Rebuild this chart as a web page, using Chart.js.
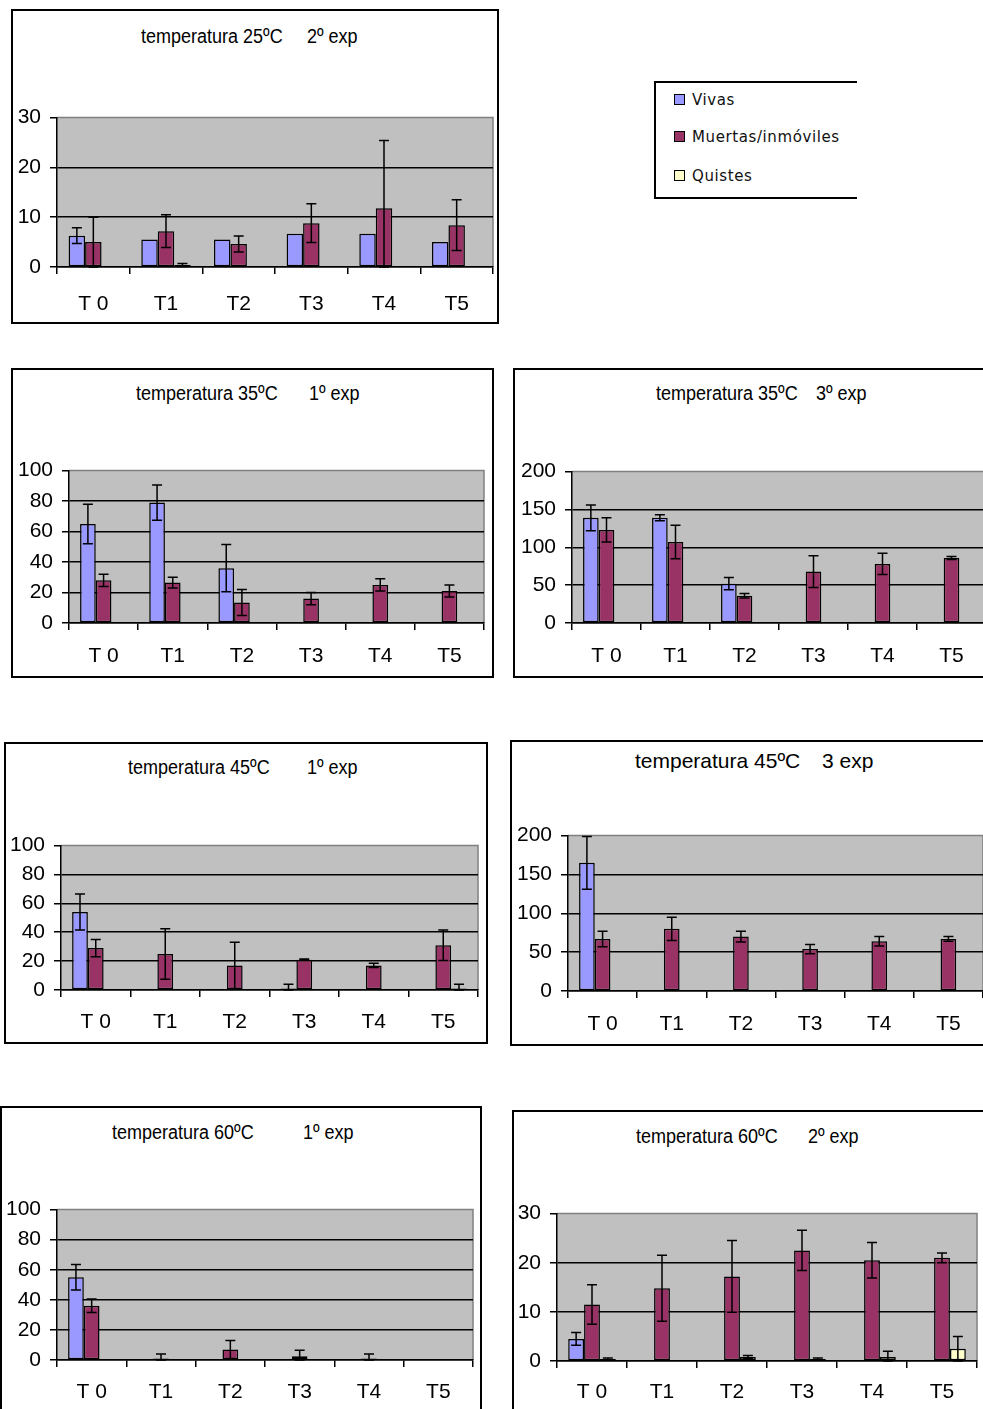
<!DOCTYPE html>
<html>
<head>
<meta charset="utf-8">
<script src="https://cdn.jsdelivr.net/npm/chart.js@4/dist/chart.umd.min.js"></script>
<style>
  html, body { margin: 0; padding: 0; background: #fff; }
  body { width: 983px; height: 1409px; overflow: hidden; position: relative; }
  .box { position: absolute; border: 2px solid #000; box-sizing: border-box; }
  canvas { position: absolute; }
  .ttl { position: absolute; font-family: "Liberation Sans", Arial, sans-serif; font-size: 20px;
         line-height: 24px; white-space: pre; transform-origin: left center; transform: scaleX(0.9); color: #000; }
  .ttl.wide { font-size: 21px; transform: none; }
  .legend { position: absolute; left: 654px; top: 81px; width: 203px; height: 118px; box-sizing: border-box;
            border: 2px solid #000; border-right: none; }
  .legend div { position: absolute; left: 18px; font-family: "DejaVu Sans", sans-serif; font-size: 15px;
                letter-spacing: 0.6px; line-height: 18px; color: #111; }
  .legend span { display: inline-block; width: 9px; height: 9px; border: 1.5px solid #000; margin-right: 7px; vertical-align: 0px; }
</style>
</head>
<body>

<div class="box" style="left:11px;top:9px;width:488px;height:315px"></div>
<div class="box" style="left:11px;top:368px;width:483px;height:310px"></div>
<div class="box" style="left:513px;top:368px;width:500px;height:310px"></div>
<div class="box" style="left:4px;top:742px;width:484px;height:302px"></div>
<div class="box" style="left:510px;top:740px;width:500px;height:306px"></div>
<div class="box" style="left:0px;top:1106px;width:482px;height:320px"></div>
<div class="box" style="left:512px;top:1110px;width:500px;height:320px"></div>

<div class="ttl" style="left:141px;top:24px">temperatura 25ºC</div>
<div class="ttl" style="left:307px;top:24px">2º exp</div>
<div class="ttl" style="left:136px;top:381px">temperatura 35ºC</div>
<div class="ttl" style="left:309px;top:381px">1º exp</div>
<div class="ttl" style="left:656px;top:381px">temperatura 35ºC</div>
<div class="ttl" style="left:816px;top:381px">3º exp</div>
<div class="ttl" style="left:128px;top:755px">temperatura 45ºC</div>
<div class="ttl" style="left:307px;top:755px">1º exp</div>
<div class="ttl wide" style="left:635px;top:749px">temperatura 45ºC</div>
<div class="ttl wide" style="left:822px;top:749px">3 exp</div>
<div class="ttl" style="left:112px;top:1120px">temperatura 60ºC</div>
<div class="ttl" style="left:303px;top:1120px">1º exp</div>
<div class="ttl" style="left:636px;top:1124px">temperatura 60ºC</div>
<div class="ttl" style="left:808px;top:1124px">2º exp</div>

<div class="legend">
  <div style="top:8px"><span style="background:#9999ff"></span>Vivas</div>
  <div style="top:45px"><span style="background:#993366"></span>Muertas/inmóviles</div>
  <div style="top:84px"><span style="background:#ffffcc"></span>Quistes</div>
</div>

<canvas id="c1"></canvas>
<canvas id="c2"></canvas>
<canvas id="c3"></canvas>
<canvas id="c4"></canvas>
<canvas id="c5"></canvas>
<canvas id="c6"></canvas>
<canvas id="c7"></canvas>

<script>
// categorias (tiempos)
const cats = ['T 0', 'T1', 'T2', 'T3', 'T4', 'T5'];
const seriesNames = ['Vivas', 'Muertas/inmóviles', 'Quistes'];

// 25ºC 2º exp
const vivas25e2 = [6.3, 5.5, 5.5, 6.7, 6.7, 5.0];
const muertas25e2 = [5.0, 7.2, 4.6, 8.8, 11.8, 8.4];
const quistes25e2 = [0, 0.4, 0, 0, 0, 0];
const errVivas25e2 = [1.6, 0, 0, 0, 0, 0];
const errMuertas25e2 = [5.0, 3.3, 1.6, 3.9, 13.6, 5.1];
const errQuistes25e2 = [0, 0.3, 0, 0, 0, 0];

// 35ºC 1º exp
const vivas35e1 = [65, 79, 36, 0, 0, 0];
const muertas35e1 = [28, 26.5, 13.5, 16, 25, 21];
const quistes35e1 = [0, 0, 0, 0, 0, 0];
const errVivas35e1 = [13, 11.5, 15.5, 0, 0, 0];
const errMuertas35e1 = [4, 3.5, 8.5, 4, 4, 4];
const errQuistes35e1 = [0, 0, 0, 0, 0, 0];

// 35ºC 3º exp
const vivas35e3 = [139, 139, 52, 0, 0, 0];
const muertas35e3 = [123, 107, 36, 68, 78, 86];
const quistes35e3 = [0, 0, 0, 0, 0, 0];
const errVivas35e3 = [17, 4, 8, 0, 0, 0];
const errMuertas35e3 = [16, 22, 3, 21, 14, 2];
const errQuistes35e3 = [0, 0, 0, 0, 0, 0];

// 45ºC 1º exp
const vivas45e1 = [54, 0, 0, 1, 0, 0];
const muertas45e1 = [29, 25, 17, 21, 17, 31];
const quistes45e1 = [0, 0, 0, 0, 0, 1];
const errVivas45e1 = [12.5, 0, 0, 3, 0, 0];
const errMuertas45e1 = [6, 17.5, 16, 0.5, 1.5, 10.5];
const errQuistes45e1 = [0, 0, 0, 0, 0, 3];

// 45ºC 3 exp
const vivas45e3 = [165, 0, 0, 0, 0, 0];
const muertas45e3 = [67, 80, 70, 54, 64, 67];
const quistes45e3 = [0, 0, 0, 0, 0, 0];
const errVivas45e3 = [34, 0, 0, 0, 0, 0];
const errMuertas45e3 = [10, 15, 7, 6, 6, 3];
const errQuistes45e3 = [0, 0, 0, 0, 0, 0];

// 60ºC 1º exp
const vivas60e1 = [55, 0, 0, 0, 0, 0];
const muertas60e1 = [36, 1, 7, 2.5, 1, 0];
const quistes60e1 = [0, 0, 0, 0, 0, 0];
const errVivas60e1 = [8.5, 0, 0, 0, 0, 0];
const errMuertas60e1 = [4.5, 3, 6, 4, 3, 0];
const errQuistes60e1 = [0, 0, 0, 0, 0, 0];

// 60ºC 2º exp
const vivas60e2 = [4.5, 0, 0, 0, 0, 0];
const muertas60e2 = [11.5, 14.8, 17.2, 22.5, 20.5, 21];
const quistes60e2 = [0.4, 0, 0.8, 0.4, 0.8, 2.5];
const errVivas60e2 = [1.3, 0, 0, 0, 0, 0];
const errMuertas60e2 = [4, 6.7, 7.3, 4.1, 3.6, 1];
const errQuistes60e2 = [0.2, 0, 0.3, 0.2, 1.2, 2.5];

const colors = ['#9999ff', '#993366', '#ffffcc'];
const font = { family: '"Liberation Sans", Arial, sans-serif', size: 21 };

// fondo gris del area de trazado
const plotBg = {
    id: 'plotBg',
    beforeDraw(chart) {
        const a = chart.chartArea, ctx = chart.ctx;
        ctx.save();
        ctx.fillStyle = '#c0c0c0';
        ctx.fillRect(a.left, a.top, a.right - a.left, a.bottom - a.top);
        ctx.strokeStyle = '#808080';
        ctx.lineWidth = 1.5;
        ctx.beginPath();
        ctx.moveTo(a.left, a.top);
        ctx.lineTo(a.right, a.top);
        ctx.lineTo(a.right, a.bottom);
        ctx.stroke();
        ctx.restore();
    }
};

// barras de error (media +- error)
const errorBars = {
    id: 'errorBars',
    afterDatasetsDraw(chart) {
        const ctx = chart.ctx, y = chart.scales.y;
        ctx.save();
        ctx.strokeStyle = '#000';
        ctx.lineWidth = 1.5;
        chart.data.datasets.forEach((ds, i) => {
            const meta = chart.getDatasetMeta(i);
            meta.data.forEach((bar, j) => {
                const e = ds.errors[j];
                if (!e) return;
                const v = ds.data[j];
                const top = y.getPixelForValue(v + e);
                const bot = y.getPixelForValue(Math.max(v - e, 0));
                ctx.beginPath();
                ctx.moveTo(bar.x, top); ctx.lineTo(bar.x, bot);
                ctx.moveTo(bar.x - 5, top); ctx.lineTo(bar.x + 5, top);
                ctx.moveTo(bar.x - 5, bot); ctx.lineTo(bar.x + 5, bot);
                ctx.stroke();
            });
        });
        ctx.restore();
    }
};

function makeChart(id, plot, yMax, step, xPad, vals, errs) {
    const [L, T, R, B] = plot;
    const cv = document.getElementById(id);
    // el area de trazado queda 21px por debajo del borde superior del canvas
    const w = (R - L) + 70 + 10, h = (B - T) + 21 + 60;
    cv.width = w; cv.height = h;
    cv.style.left = (L - 70) + 'px';
    cv.style.top = (T - 21) + 'px';
    cv.style.width = w + 'px';
    cv.style.height = h + 'px';
    return new Chart(cv.getContext('2d'), {
        type: 'bar',
        data: {
            labels: cats,
            datasets: vals.map((d, i) => ({
                label: seriesNames[i],
                data: d,
                errors: errs[i],
                backgroundColor: colors[i],
                borderColor: '#000',
                borderWidth: 1.5,
                borderSkipped: false,
                categoryPercentage: 0.68,
                barPercentage: 1.0
            }))
        },
        options: {
            responsive: false,
            animation: false,
            layout: { autoPadding: false, padding: { top: 9, right: 10, left: 0, bottom: 0 } },
            plugins: { legend: { display: false }, tooltip: { enabled: false } },
            scales: {
                x: {
                    afterFit: s => { s.height = 60; },
                    grid: { offset: true, drawOnChartArea: false, tickLength: 7, color: '#000', lineWidth: 1.5 },
                    border: { color: '#000', width: 1.5 },
                    ticks: { color: '#000', font: font, padding: xPad, maxRotation: 0, autoSkip: false }
                },
                y: {
                    min: 0, max: yMax,
                    afterFit: s => { s.width = 70; },
                    grid: {
                        color: c => (c.tick && c.tick.value === yMax) ? 'rgba(0,0,0,0)' : '#000',
                        lineWidth: 1.5, tickLength: 7, tickColor: '#000', tickWidth: 1.5
                    },
                    border: { color: '#000', width: 1.5 },
                    ticks: { stepSize: step, color: '#000', font: font, padding: 9, autoSkip: false }
                }
            }
        },
        plugins: [plotBg, errorBars]
    });
}

makeChart('c1', [57, 117, 493, 267], 30, 10, 18,
    [vivas25e2, muertas25e2, quistes25e2], [errVivas25e2, errMuertas25e2, errQuistes25e2]);
makeChart('c2', [69, 470, 484, 623], 100, 20, 14,
    [vivas35e1, muertas35e1, quistes35e1], [errVivas35e1, errMuertas35e1, errQuistes35e1]);
makeChart('c3', [572, 471, 986, 623], 200, 50, 14,
    [vivas35e3, muertas35e3, quistes35e3], [errVivas35e3, errMuertas35e3, errQuistes35e3]);
makeChart('c4', [61, 845, 478, 990], 100, 20, 13,
    [vivas45e1, muertas45e1, quistes45e1], [errVivas45e1, errMuertas45e1, errQuistes45e1]);
makeChart('c5', [568, 835, 983, 991], 200, 50, 14,
    [vivas45e3, muertas45e3, quistes45e3], [errVivas45e3, errMuertas45e3, errQuistes45e3]);
makeChart('c6', [57, 1209, 473, 1360], 100, 20, 13,
    [vivas60e1, muertas60e1, quistes60e1], [errVivas60e1, errMuertas60e1, errQuistes60e1]);
makeChart('c7', [557, 1213, 977, 1361], 30, 10, 12,
    [vivas60e2, muertas60e2, quistes60e2], [errVivas60e2, errMuertas60e2, errQuistes60e2]);
</script>
</body>
</html>
